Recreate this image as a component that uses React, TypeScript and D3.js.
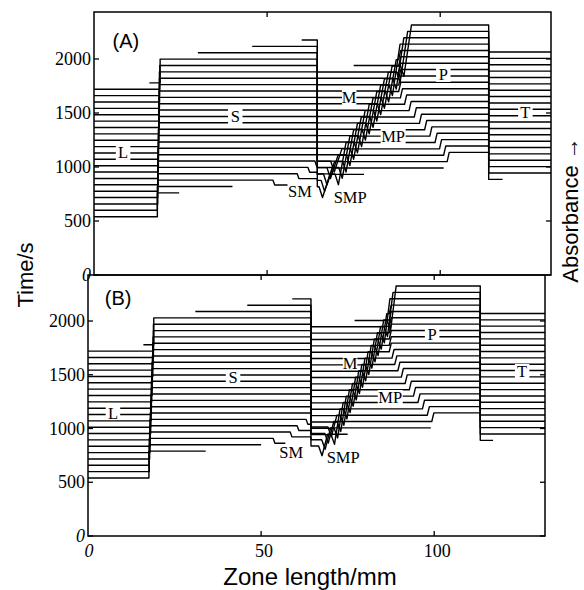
import React from "react";
import * as d3 from "d3";

// ---- data ----
// baseline time (s) of each recorded absorbance trace
const traceTimes = [540, 599, 658, 717, 776, 835, 894, 953, 1012, 1071, 1130, 1189, 1248, 1307, 1366, 1425, 1484, 1543, 1602, 1661, 1720, 1779, 1838, 1897, 1956, 2015];

// zone absorbance offsets in s-units: [L, S, SM, SMP, M, MP, P, T]
const levelsA = [0, 220, 175, 100, -76, 215, 300, 50];
const levelsB = [0, 250, 205, 120, -10, 230, 310, 55];
const dipA = 100;
const dipB = 90;

// panel A per-trace extents and boundaries (mm)
const startA = [0, 0, 0, 0, 0, 0, 0, 0, 0, 0, 0, 0, 0, 0, 0, 0, 0, 0, 0, 0, 0, 16, 30, 45.7, 60, 75];
const endA = [24.6, 40, 57, 78, 101, 118, 132, 132, 132, 132, 132, 132, 132, 132, 132, 132, 132, 132, 132, 132, 132, 132, 132, 132, 132, 132];
const lsA = [18.3, 18.3, 18.4, 18.4, 18.4, 18.5, 18.5, 18.5, 18.6, 18.6, 18.6, 18.7, 18.7, 18.7, 18.8, 18.8, 18.8, 18.9, 18.9, 18.9, 19.0, 19.1, 19.1, 19.1, 19.1, 19.1];
const smA = [null, null, 51.7, 58.7, 61.8, 63.8, null, null, null, null, null, null, null, null, null, null, null, null, null, null, null, null, null, null, null, null];
const bandA = [null, null, null, 65.0, 65.6, 66.3, 67.3, 68.4, 69.6, 70.7, 71.8, 72.9, 74.0, 75.1, 76.3, 77.4, 78.5, 79.6, 80.7, 81.8, 82.9, 84.1, 85.2, 86.3, 87.4, 88.5];
const mppA = [null, null, null, null, 103, 102, 101, 99.8, 98.5, 97, 95.5, 94, 92.5, 91, 89.7, 88.5, 88, 88, 88, 88, 88, 88, 88, 88, 88, 88];
const smBoundA = 64.5;
const ptBoundA = 114;
const firstMA = 8;

// panel B
const startB = [0, 0, 0, 0, 0, 0, 0, 0, 0, 0, 0, 0, 0, 0, 0, 0, 0, 0, 0, 0, 0, 16, 31, 46, 59, 77];
const endB = [34, 50, 57, 75, 99, 117, 132, 132, 132, 132, 132, 132, 132, 132, 132, 132, 132, 132, 132, 132, 132, 132, 132, 132, 132, 132];
const lsB = [17.6, 17.7, 17.7, 17.8, 17.9, 17.9, 18.0, 18.1, 18.1, 18.2, 18.3, 18.3, 18.4, 18.5, 18.5, 18.6, 18.7, 18.7, 18.8, 18.9, 18.9, 19.0, 19.0, 19.0, 19.0, 19.0];
const smB = [null, null, 53.5, 58.4, 60.4, 63.0, null, null, null, null, null, null, null, null, null, null, null, null, null, null, null, null, null, null, null, null];
const bandB = [null, null, null, 66.6, 67.5, 68.4, 69.3, 70.2, 71.1, 72.0, 72.9, 73.8, 74.7, 75.6, 76.5, 77.4, 78.3, 79.2, 80.1, 81.0, 81.9, 82.8, 83.7, 84.6, 85.5, 86.4];
const mppB = [null, null, null, null, 100.5, 99.3, 98, 96.6, 95.3, 94, 92.8, 91.6, 90.5, 89.5, 88.6, 87.8, 87, 87, 87, 87, 87, 87, 87, 87, 87, 87];
const smBoundB = 64.4;
const ptBoundB = 113.3;
const firstMB = 7;

// axis ticks
const yTicks = [0, 500, 1000, 1500, 2000];
const xTicks = [0, 50, 100];

// zone labels (positions in data units)
const labelTexts = ["L", "S", "SM", "SMP", "M", "MP", "P", "T"];
const labelXA = [8.4, 40.8, 59.5, 74, 73.7, 86.4, 100.9, 124.6];
const labelYA = [1130, 1463, 769, 722, 1639, 1278, 1852, 1500];
const labelXB = [7.2, 41.9, 58.7, 73.7, 75.7, 87.3, 99.4, 125.4];
const labelYB = [1144, 1470, 781, 726, 1609, 1284, 1879, 1526];

const X_MAX = 132;
const DIP_W = 1.0;

type Pt = [number, number];

function clip(pts: Pt[], x0: number, x1: number): Pt[] {
  const out: Pt[] = [];
  for (let k = 0; k < pts.length - 1; k++) {
    const [ax, ay] = pts[k];
    const [bx, by] = pts[k + 1];
    if (bx < x0 || ax > x1) continue;
    let sx = ax, sy = ay, ex = bx, ey = by;
    if (ax < x0 && bx !== ax) {
      const t = (x0 - ax) / (bx - ax);
      sx = x0; sy = ay + t * (by - ay);
    }
    if (bx > x1 && bx !== ax) {
      const t = (x1 - ax) / (bx - ax);
      ex = x1; ey = ay + t * (by - ay);
    }
    const last = out[out.length - 1];
    if (!last || last[0] !== sx || last[1] !== sy) out.push([sx, sy]);
    out.push([ex, ey]);
  }
  return out;
}

interface Cfg {
  levels: number[]; dip: number; riseW: number; start: number[]; end: number[]; ls: number[];
  sm: (number | null)[]; band: (number | null)[]; mpp: (number | null)[];
  smBound: number; ptBound: number; firstM: number;
}

function profile(i: number, c: Cfg): Pt[] {
  const b = traceTimes[i];
  const [L, S, SM, SMP, M, MP, P, T] = c.levels;
  const pts: Pt[] = [];
  const ls = c.ls[i];
  pts.push([0, b + L], [ls, b + L], [ls, b + S]);
  let pre = S;
  const sm = c.sm[i];
  if (sm != null && sm < c.smBound) {
    pts.push([sm, b + S], [sm + 0.5, b + SM]);
    pre = SM;
  }
  pts.push([c.smBound, b + pre]);
  const mid = i >= c.firstM ? M : SMP;
  pts.push([c.smBound, b + mid]);
  const band = c.band[i] ?? c.smBound + 1;
  pts.push([band, b + mid], [band + DIP_W, b + mid - c.dip]);
  const mpp = c.mpp[i] ?? X_MAX;
  const riseEnd = band + DIP_W + c.riseW;
  if (mpp > riseEnd + 0.3) {
    pts.push([riseEnd, b + MP], [mpp, b + MP], [mpp + 0.6, b + P]);
  } else {
    pts.push([riseEnd, b + P]);
  }
  pts.push([c.ptBound, b + P], [c.ptBound, b + T], [X_MAX, b + T]);
  return clip(pts, c.start[i], c.end[i]);
}

const serif = "'Liberation Serif', 'Times New Roman', serif";
const sans = "'Liberation Sans', Arial, sans-serif";

function Panel(props: {
  cfg: Cfg; x: d3.ScaleLinear<number, number>; y: d3.ScaleLinear<number, number>;
  tag: string; tagPos: Pt; lx: number[]; ly: number[]; showXLabels: boolean;
}) {
  const { cfg, x, y, tag, tagPos, lx, ly, showXLabels } = props;
  const line = d3.line<Pt>().x((d) => x(d[0])).y((d) => y(d[1]));
  const [x0, x1] = x.range();
  const [yb, yt] = y.range();
  return (
    <g>
      {traceTimes.map((_, i) => (
        <path key={i} d={line(profile(i, cfg)) || ""} fill="none" stroke="#000" strokeWidth={1.4} strokeLinejoin="round" />
      ))}
      {labelTexts.map((t, k) => {
        const w = t.length * 10.5 + 4;
        return (
          <g key={t}>
            <rect x={x(lx[k]) - w / 2} y={y(ly[k]) - 8} width={w} height={15} fill="#fff" />
            <text x={x(lx[k])} y={y(ly[k]) + 5.5} textAnchor="middle" fontFamily={serif} fontSize={16.5}>{t}</text>
          </g>
        );
      })}
      <text x={x(tagPos[0])} y={y(tagPos[1]) + 7} textAnchor="middle" fontFamily={sans} fontSize={20}>{tag}</text>
      <rect x={x0} y={yt} width={x1 - x0} height={yb - yt} fill="none" stroke="#000" strokeWidth={1.5} />
      {yTicks.map((t) => (
        <g key={"y" + t}>
          <line x1={x0} x2={x0 + 5} y1={y(t)} y2={y(t)} stroke="#000" strokeWidth={1.3} />
          <line x1={x1 - 5} x2={x1} y1={y(t)} y2={y(t)} stroke="#000" strokeWidth={1.3} />
          <text x={x0 - 3} y={y(t) + 6} textAnchor="end" fontFamily={serif} fontSize={18} fontStyle={t === 0 ? "italic" : "normal"}>{t}</text>
        </g>
      ))}
      {xTicks.filter((t) => t > 0).map((t) => (
        <g key={"x" + t}>
          <line x1={x(t)} x2={x(t)} y1={yt} y2={yt + 5} stroke="#000" strokeWidth={1.3} />
          <line x1={x(t)} x2={x(t)} y1={yb - 5} y2={yb} stroke="#000" strokeWidth={1.3} />
        </g>
      ))}
      {showXLabels && xTicks.map((t) => (
        <text key={"xl" + t} x={x(t) + (t === 0 ? 1 : 3)} y={yb + 21} textAnchor="middle" fontFamily={serif} fontSize={18} fontStyle={t === 0 ? "italic" : "normal"}>{t}</text>
      ))}
    </g>
  );
}

export default function App() {
  const xA = d3.scaleLinear().domain([0, 132]).range([94, 551]);
  const yA = d3.scaleLinear().domain([0, 2435]).range([275, 12]);
  const xB = d3.scaleLinear().domain([0, 132]).range([88, 545]);
  const yB = d3.scaleLinear().domain([0, 2428]).range([536, 275]);

  const cfgA: Cfg = { levels: levelsA, dip: dipA, riseW: 2.2, start: startA, end: endA, ls: lsA, sm: smA, band: bandA, mpp: mppA, smBound: smBoundA, ptBound: ptBoundA, firstM: firstMA };
  const cfgB: Cfg = { levels: levelsB, dip: dipB, riseW: 1.6, start: startB, end: endB, ls: lsB, sm: smB, band: bandB, mpp: mppB, smBound: smBoundB, ptBound: ptBoundB, firstM: firstMB };

  return (
    <svg width={584} height={590} viewBox="0 0 584 590" style={{ position: "absolute", left: 0, top: 0, background: "#fff" }}>
      <rect x={0} y={0} width={584} height={590} fill="#fff" />
      <Panel cfg={cfgA} x={xA} y={yA} tag="(A)" tagPos={[9.2, 2167]} lx={labelXA} ly={labelYA} showXLabels={false} />
      <Panel cfg={cfgB} x={xB} y={yB} tag="(B)" tagPos={[8.7, 2214]} lx={labelXB} ly={labelYB} showXLabels={true} />
      <text transform="translate(33,275) rotate(-90)" textAnchor="middle" fontFamily={sans} fontSize={22}>Time/s</text>
      <text x={310} y={585} textAnchor="middle" fontFamily={sans} fontSize={24}>Zone length/mm</text>
      <text transform="translate(578,210) rotate(-90)" textAnchor="middle" fontFamily={sans} fontSize={22}>Absorbance →</text>
    </svg>
  );
}
